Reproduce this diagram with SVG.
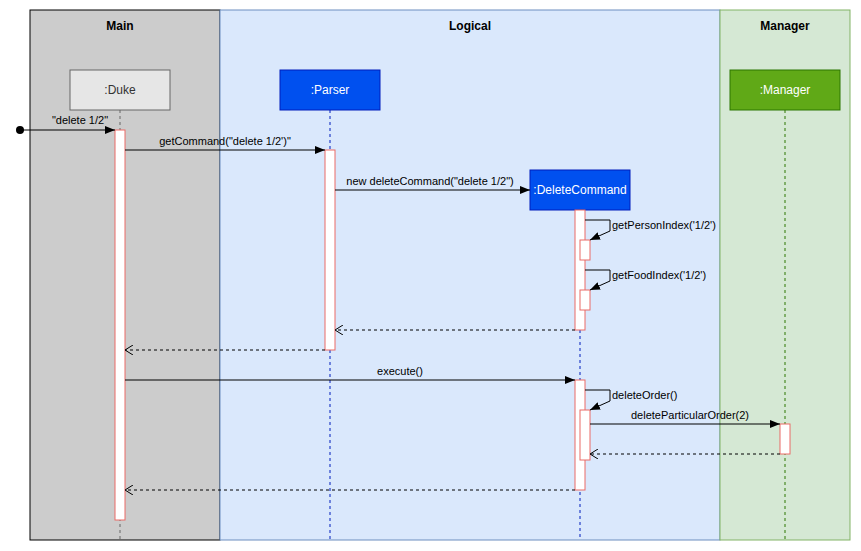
<svg xmlns="http://www.w3.org/2000/svg" width="861" height="551" viewBox="0 0 861 551">
<style>
text{font-family:"Liberation Sans",Arial,sans-serif;font-size:11px;fill:#000}
.title{font-weight:bold;font-size:12px}
.w{fill:#fff;font-size:12px}
.act{fill:#fff;stroke:#ea6b66;stroke-width:1}
.msg{stroke:#000;stroke-width:1;fill:none}
.ret{stroke:#000;stroke-width:1;fill:none;stroke-dasharray:3 3}
.life{stroke-width:1;fill:none;stroke-dasharray:3 3}
</style>
<defs>
<marker id="block" viewBox="0 0 10 8" refX="10" refY="4" markerWidth="10" markerHeight="8" markerUnits="userSpaceOnUse" orient="auto">
<path d="M0,0 L10,4 L0,8 Z" fill="#000"/>
</marker>
<marker id="open" viewBox="0 0 10 10" refX="9" refY="5" markerWidth="10" markerHeight="10" markerUnits="userSpaceOnUse" orient="auto">
<path d="M1,0 L9,5 L1,10" fill="none" stroke="#000" stroke-width="1"/>
</marker>
</defs>
<rect width="861" height="551" fill="#fff"/>
<g id="lane-main">
<rect x="30" y="10" width="190" height="530" fill="#cccccc" stroke="#000"/>
<text class="title" x="120" y="30" text-anchor="middle">Main</text>
</g>
<g id="lane-logical">
<rect x="220" y="10" width="500" height="530" fill="#dae8fc" stroke="#6c8ebf"/>
<text class="title" x="470" y="30" text-anchor="middle">Logical</text>
</g>
<g id="lane-manager">
<rect x="720" y="10" width="130" height="530" fill="#d5e8d4" stroke="#82b366"/>
<text class="title" x="785" y="30" text-anchor="middle">Manager</text>
</g>
<g id="duke">
<line class="life" x1="120" y1="110" x2="120" y2="540" stroke="#666"/>
<rect x="70" y="70" width="100" height="40" fill="#e6e6e6" stroke="#666"/>
<text x="120" y="94" text-anchor="middle" style="font-size:12px;fill:#333">:Duke</text>
<rect class="act" x="115" y="130" width="10" height="390"/>
</g>
<g id="parser">
<line class="life" x1="330" y1="110" x2="330" y2="540" stroke="#001dbc"/>
<rect x="280" y="70" width="100" height="40" fill="#0050ef" stroke="#001dbc"/>
<text class="w" x="330" y="94" text-anchor="middle">:Parser</text>
<rect class="act" x="325" y="150" width="10" height="200"/>
</g>
<g id="deletecommand">
<line class="life" x1="580" y1="210" x2="580" y2="540" stroke="#001dbc"/>
<rect x="530" y="170" width="100" height="40" fill="#0050ef" stroke="#001dbc"/>
<text class="w" x="580" y="194" text-anchor="middle">:DeleteCommand</text>
<rect class="act" x="575" y="210" width="10" height="120"/>
<rect class="act" x="580" y="240" width="10" height="20"/>
<rect class="act" x="580" y="290" width="10" height="20"/>
<rect class="act" x="575" y="380" width="10" height="110"/>
<rect class="act" x="580" y="410" width="10" height="50"/>
</g>
<g id="manager">
<line class="life" x1="785" y1="110" x2="785" y2="540" stroke="#2d7600"/>
<rect x="730" y="70" width="110" height="40" fill="#60a917" stroke="#2d7600"/>
<text class="w" x="785" y="94" text-anchor="middle">:Manager</text>
<rect class="act" x="780" y="424" width="10" height="30"/>
</g>
<g id="connectors">
<circle cx="20" cy="130" r="4" fill="#000"/>
<line class="msg" x1="20" y1="130" x2="115" y2="130" marker-end="url(#block)"/>
<text x="80" y="124" text-anchor="middle">"delete 1/2"</text>
<line class="msg" x1="125" y1="150" x2="325" y2="150" marker-end="url(#block)"/>
<text x="225" y="145" text-anchor="middle">getCommand("delete 1/2')"</text>
<line class="msg" x1="335" y1="190" x2="530" y2="190" marker-end="url(#block)"/>
<text x="430" y="185" text-anchor="middle">new deleteCommand("delete 1/2")</text>
<polyline class="msg" points="585,220 610,220 610,231 590,240" marker-end="url(#block)"/>
<text x="612" y="229">getPersonIndex('1/2')</text>
<polyline class="msg" points="585,270 610,270 610,281 590,290" marker-end="url(#block)"/>
<text x="612" y="279">getFoodIndex('1/2')</text>
<line class="ret" x1="575" y1="330" x2="335" y2="330" marker-end="url(#open)"/>
<line class="ret" x1="325" y1="350" x2="125" y2="350" marker-end="url(#open)"/>
<line class="msg" x1="125" y1="380" x2="575" y2="380" marker-end="url(#block)"/>
<text x="400" y="375" text-anchor="middle">execute()</text>
<polyline class="msg" points="585,390 610,390 610,401 590,410" marker-end="url(#block)"/>
<text x="612" y="399">deleteOrder()</text>
<line class="msg" x1="590" y1="424" x2="780" y2="424" marker-end="url(#block)"/>
<text x="690" y="419" text-anchor="middle">deleteParticularOrder(2)</text>
<line class="ret" x1="780" y1="454" x2="590" y2="454" marker-end="url(#open)"/>
<line class="ret" x1="575" y1="490" x2="125" y2="490" marker-end="url(#open)"/>
</g>
</svg>
